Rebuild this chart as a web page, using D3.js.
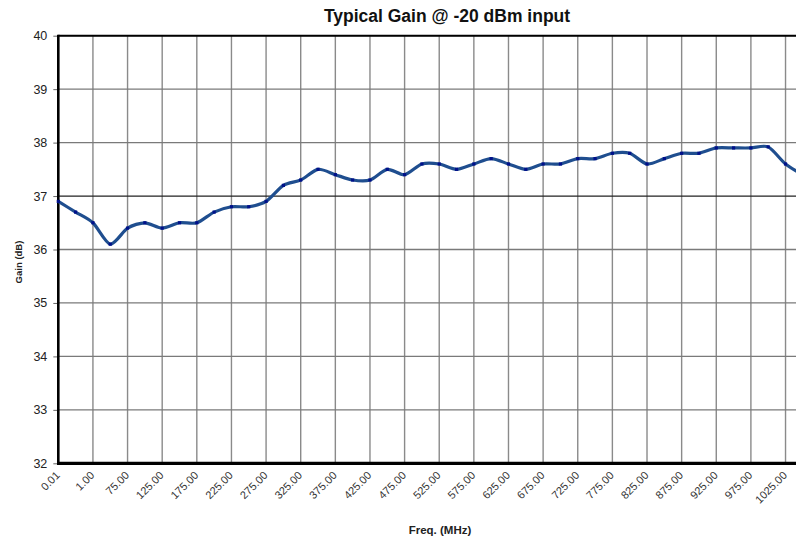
<!DOCTYPE html>
<html>
<head>
<meta charset="utf-8">
<script src="https://cdn.jsdelivr.net/npm/d3@7"></script>
<style>
  body { margin: 0; background: #fff; }
  svg { display: block; overflow: hidden; }
</style>
</head>
<body>
<svg id="chart" width="796" height="540"></svg>
<script>
// frequencies (MHz), labels shown every other one
var freqs = ["0.01", "0.50", "1.00", "50.00", "75.00", "100.00", "125.00", "150.00", "175.00", "200.00",
    "225.00", "250.00", "275.00", "300.00", "325.00", "350.00", "375.00", "400.00", "425.00", "450.00",
    "475.00", "500.00", "525.00", "550.00", "575.00", "600.00", "625.00", "650.00", "675.00", "700.00",
    "725.00", "750.00", "775.00", "800.00", "825.00", "850.00", "875.00", "900.00", "925.00", "950.00",
    "975.00", "1000.00", "1025.00", "1050.00"];
var gain = [36.9, 36.7, 36.5, 36.1, 36.4, 36.5, 36.4, 36.5, 36.5, 36.7,
    36.8, 36.8, 36.9, 37.2, 37.3, 37.5, 37.4, 37.3, 37.3, 37.5,
    37.4, 37.6, 37.6, 37.5, 37.6, 37.7, 37.6, 37.5, 37.6, 37.6,
    37.7, 37.7, 37.8, 37.8, 37.6, 37.7, 37.8, 37.8, 37.9, 37.9,
    37.9, 37.92, 37.6, 37.4];
var yTicks = [32, 33, 34, 35, 36, 37, 38, 39, 40];
var labelFreqs = freqs.filter(function(d, i) { return i % 2 == 0; });

var svg = d3.select("#chart");
var plotLeft = 58.3, plotTop = 35.7, plotBottom = 463.3;
var step = 17.315;

var x = d3.scalePoint()
    .domain(freqs)
    .range([plotLeft, plotLeft + step * (freqs.length - 1)]);
var y = d3.scaleLinear()
    .domain([32, 40])
    .range([plotBottom, plotTop]);

var g = svg.append("g");

// gridlines
g.selectAll("line.vgrid")
    .data(labelFreqs)
    .enter().append("line")
    .attr("class", "vgrid")
    .attr("x1", function(d) { return x(d); })
    .attr("x2", function(d) { return x(d); })
    .attr("y1", plotTop)
    .attr("y2", plotBottom)
    .style("stroke", "#8a8a8a")
    .style("stroke-width", 1.4);

g.selectAll("line.hgrid")
    .data(yTicks)
    .enter().append("line")
    .attr("class", "hgrid")
    .attr("x1", plotLeft)
    .attr("x2", 900)
    .attr("y1", function(d) { return y(d); })
    .attr("y2", function(d) { return y(d); })
    .style("stroke", function(d) { return d == 37 ? "#222" : "#7a7a7a"; })
    .style("stroke-width", 1.3);

// frame
g.append("line")
    .attr("x1", plotLeft).attr("x2", 900)
    .attr("y1", plotTop).attr("y2", plotTop)
    .style("stroke", "#000").style("stroke-width", 2);

// y axis
var yAxis = d3.axisLeft(y)
    .tickValues(yTicks)
    .tickSize(5)
    .tickPadding(6);
var ya = svg.append("g")
    .attr("transform", "translate(" + plotLeft + ",0)")
    .call(yAxis);
ya.select(".domain").remove();
ya.selectAll(".tick line").style("stroke", "#666");
ya.selectAll(".tick text")
    .style("font-family", "Arial, 'Liberation Sans', sans-serif")
    .style("font-size", "12.5px")
    .style("fill", "#222");

svg.append("line")
    .attr("x1", plotLeft).attr("x2", plotLeft)
    .attr("y1", plotTop - 1).attr("y2", plotBottom + 1.5)
    .style("stroke", "#000").style("stroke-width", 2.6);

// x axis
var xAxis = d3.axisBottom(x)
    .tickValues(labelFreqs)
    .tickSize(0)
    .tickPadding(0);
var xa = svg.append("g")
    .attr("transform", "translate(0," + plotBottom + ")")
    .call(xAxis);
xa.select(".domain").remove();
xa.selectAll(".tick text")
    .attr("transform", "translate(-1,10) rotate(-45)")
    .attr("text-anchor", "end")
    .attr("dy", "0.35em")
    .attr("y", 0)
    .style("font-family", "Arial, 'Liberation Sans', sans-serif")
    .style("font-size", "11px")
    .style("fill", "#333");

svg.append("line")
    .attr("x1", plotLeft - 1.3).attr("x2", 900)
    .attr("y1", plotBottom).attr("y2", plotBottom)
    .style("stroke", "#000").style("stroke-width", 3.2);

// gain line
var line = d3.line()
    .x(function(d, i) { return x(freqs[i]); })
    .y(function(d) { return y(d); })
    .curve(d3.curveCardinal.tension(0.2));

svg.append("path")
    .datum(gain)
    .attr("d", line)
    .style("fill", "none")
    .style("stroke", "#1f4e8f")
    .style("stroke-width", 3.2)
    .style("stroke-linejoin", "round");

svg.selectAll("rect.pt")
    .data(gain)
    .enter().append("rect")
    .attr("class", "pt")
    .attr("x", function(d, i) { return x(freqs[i]) - 1.6; })
    .attr("y", function(d) { return y(d) - 1.6; })
    .attr("width", 3.2)
    .attr("height", 3.2)
    .style("fill", "#00108a");

// titles
svg.append("text")
    .attr("x", 447)
    .attr("y", 22)
    .attr("text-anchor", "middle")
    .style("font-family", "Arial, 'Liberation Sans', sans-serif")
    .style("font-weight", "bold")
    .style("font-size", "17.5px")
    .style("fill", "#111")
    .text("Typical Gain @ -20 dBm input");

svg.append("text")
    .attr("x", 440)
    .attr("y", 534)
    .attr("text-anchor", "middle")
    .style("font-family", "Arial, 'Liberation Sans', sans-serif")
    .style("font-weight", "bold")
    .style("font-size", "11.5px")
    .style("fill", "#222")
    .text("Freq. (MHz)");

svg.append("text")
    .attr("transform", "translate(22,262) rotate(-90)")
    .attr("text-anchor", "middle")
    .style("font-family", "Arial, 'Liberation Sans', sans-serif")
    .style("font-weight", "bold")
    .style("font-size", "9.5px")
    .style("fill", "#222")
    .text("Gain (dB)");
</script>
</body>
</html>
